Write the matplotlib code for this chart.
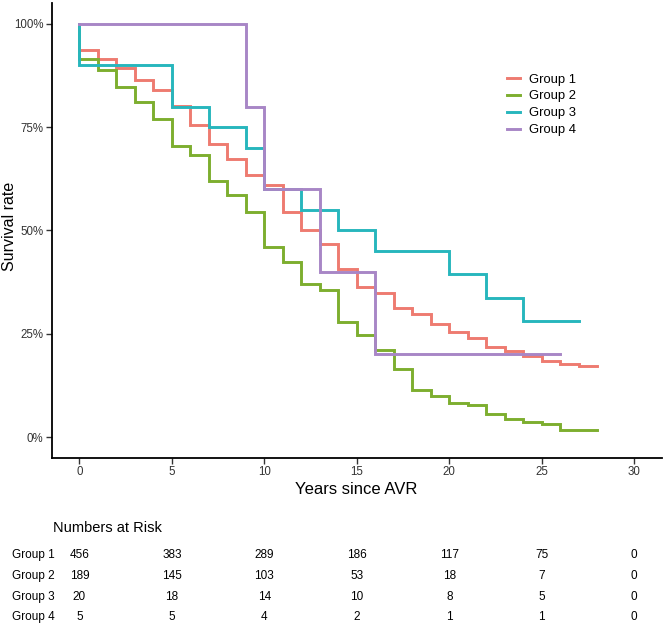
import matplotlib
matplotlib.use("Agg")
import matplotlib.pyplot as plt
import matplotlib.transforms as mtransforms

plt.rcParams['font.family'] = ['Liberation Sans', 'DejaVu Sans']

# survival curves (years, survival %), step after each time
g1_time = [0, 0, 1, 2, 3, 4, 5, 6, 7, 8, 9, 10, 11, 12, 13, 14, 15, 16, 17, 18, 19, 20, 21, 22, 23, 24, 25, 26, 27, 28]
g1_surv = [100, 93.6, 91.5, 89.3, 86.5, 83.9, 80.2, 75.6, 71.0, 67.4, 63.4, 61.0, 54.5, 50.0, 46.7, 40.7, 36.4,
           34.8, 31.3, 29.8, 27.3, 25.4, 24.0, 21.8, 20.8, 19.6, 18.4, 17.8, 17.2, 17.2]

g2_time = [0, 0, 1, 2, 3, 4, 5, 6, 7, 8, 9, 10, 11, 12, 13, 14, 15, 16, 17, 18, 19, 20, 21, 22, 23, 24, 25, 26, 28]
g2_surv = [100, 91.5, 88.9, 84.7, 81.0, 76.9, 70.4, 68.2, 61.9, 58.7, 54.5, 46.0, 42.4, 37.0, 35.7, 27.9, 24.8,
           21.1, 16.4, 11.5, 9.9, 8.3, 7.7, 5.5, 4.4, 3.7, 3.2, 1.7, 1.7]

g3_time = [0, 0, 5, 7, 9, 10, 12, 14, 16, 20, 22, 24, 27]
g3_surv = [100, 90, 80, 75, 70, 60, 55, 50, 45, 39.4, 33.75, 28.1, 28.1]

g4_time = [0, 9, 10, 13, 16, 26]
g4_surv = [100, 80, 60, 40, 20, 20]

groups = ['Group 1', 'Group 2', 'Group 3', 'Group 4']
colors = ['#EE7B70', '#7DAE2F', '#27B6BD', '#A886C6']

# numbers at risk
risk_times = [0, 5, 10, 15, 20, 25, 30]
risk_g1 = [456, 383, 289, 186, 117, 75, 0]
risk_g2 = [189, 145, 103, 53, 18, 7, 0]
risk_g3 = [20, 18, 14, 10, 8, 5, 0]
risk_g4 = [5, 5, 4, 2, 1, 1, 0]

W, H = 666, 627
fig = plt.figure(figsize=(W / 100, H / 100), dpi=100)
ax = fig.add_axes([51.7 / W, 1 - 457.7 / H, (662 - 51.7) / W, (457.7 - 3.3) / H])

curves = [(g1_time, g1_surv), (g2_time, g2_surv), (g3_time, g3_surv), (g4_time, g4_surv)]
for (t, s), name, c in zip(curves, groups, colors):
    ax.step(t, s, where='post', color=c, lw=2.1, label=name, solid_joinstyle='miter')

ax.set_xlim(-1.5, 31.5)
ax.set_ylim(-5, 105)
ax.set_xticks([0, 5, 10, 15, 20, 25, 30])
ax.set_yticks([0, 25, 50, 75, 100])
ax.set_yticklabels(['0%', '25%', '50%', '75%', '100%'])
ax.tick_params(labelsize=8.3, colors='#333333', labelcolor='#333333', length=4, width=1, pad=2)
for side in ['top', 'right']:
    ax.spines[side].set_visible(False)
for side in ['left', 'bottom']:
    ax.spines[side].set_linewidth(1.3)

leg = ax.legend(loc='upper left', bbox_to_anchor=(507 / W, 1 - 73.5 / H), bbox_transform=fig.transFigure,
                frameon=False, fontsize=9.4, handlelength=1.0, handletextpad=0.65, labelspacing=0.36,
                borderpad=0, borderaxespad=0)
for line in leg.get_lines():
    line.set_linewidth(2.1)

fig.text(10 / W, 1 - 226 / H, 'Survival rate', rotation=90, ha='center', va='center', fontsize=11.5)
fig.text(356 / W, 1 - 489 / H, 'Years since AVR', ha='center', va='center', fontsize=12)

# numbers at risk table
fig.text(53.3 / W, 1 - 528 / H, 'Numbers at Risk', ha='left', va='center', fontsize=10.5)
trans = mtransforms.blended_transform_factory(ax.transData, fig.transFigure)
rows_y = [555, 576, 596.7, 617.3]
for name, counts, ry in zip(groups, [risk_g1, risk_g2, risk_g3, risk_g4], rows_y):
    fig.text(11.7 / W, 1 - ry / H, name, ha='left', va='center', fontsize=8.5)
    for t, n in zip(risk_times, counts):
        ax.text(t, 1 - ry / H, str(n), transform=trans, ha='center', va='center', fontsize=8.5)

fig.savefig('out.png', dpi=100)
